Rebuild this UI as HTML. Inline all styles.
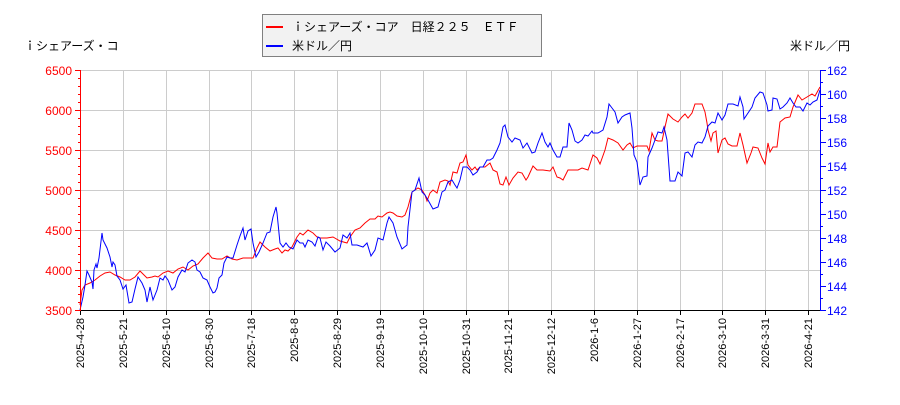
<!DOCTYPE html>
<html><head><meta charset="utf-8"><style>
body{margin:0;background:#fff;}
svg text{font-family:"Liberation Sans","Noto Sans CJK JP",sans-serif;}
</style></head><body>
<svg width="900" height="400" xmlns="http://www.w3.org/2000/svg">
<rect width="900" height="400" fill="#fff"/>
<g stroke="#cccccc" stroke-width="1">
<line x1="123.5" y1="70" x2="123.5" y2="310"/><line x1="166.5" y1="70" x2="166.5" y2="310"/><line x1="209.5" y1="70" x2="209.5" y2="310"/><line x1="251.5" y1="70" x2="251.5" y2="310"/><line x1="294.5" y1="70" x2="294.5" y2="310"/><line x1="337.5" y1="70" x2="337.5" y2="310"/><line x1="380.5" y1="70" x2="380.5" y2="310"/><line x1="423.5" y1="70" x2="423.5" y2="310"/><line x1="466.5" y1="70" x2="466.5" y2="310"/><line x1="508.5" y1="70" x2="508.5" y2="310"/><line x1="551.5" y1="70" x2="551.5" y2="310"/><line x1="594.5" y1="70" x2="594.5" y2="310"/><line x1="637.5" y1="70" x2="637.5" y2="310"/><line x1="680.5" y1="70" x2="680.5" y2="310"/><line x1="722.5" y1="70" x2="722.5" y2="310"/><line x1="765.5" y1="70" x2="765.5" y2="310"/><line x1="808.5" y1="70" x2="808.5" y2="310"/>
<line x1="81" y1="70.5" x2="820" y2="70.5"/><line x1="81" y1="110.5" x2="820" y2="110.5"/><line x1="81" y1="150.5" x2="820" y2="150.5"/><line x1="81" y1="190.5" x2="820" y2="190.5"/><line x1="81" y1="230.5" x2="820" y2="230.5"/><line x1="81" y1="270.5" x2="820" y2="270.5"/>
</g>
<polyline fill="none" stroke="#ff0000" stroke-width="1" points="80,305 82,290 85,285 90,283 95,280 100,276 105,273 110,272 115,275 120,277 125,280 130,280 135,277 140,271 143,274 147,278 152,277 155,276 158,277 163,273 168,271 173,273 178,269 183,267 188,270 193,266 198,264 203,258 208,253 212,258 217,259 222,259 227,256 232,259 237,260 243,258 248,258 253,258 257,248 260,242 265,247 270,251 275,249 278,248 282,253 285,250 288,251 292,247 297,237 300,233 303,235 308,230 313,233 317,237 320,238 327,238 333,237 340,241 347,243 350,237 355,230 360,228 365,223 370,219 375,219 378,216 382,217 387,213 390,212 393,213 397,216 402,217 405,215 408,207 412,192 415,190 418,188 422,190 425,195 427,201 430,193 433,190 437,193 440,182 445,180 448,181 450,185 453,172 457,173 460,163 463,162 466,155 468,165 472,170 475,167 477,170 480,167 485,167 490,163 493,170 497,172 500,184 503,185 506,177 509,185 513,178 518,172 522,173 526,180 528,177 533,166 537,170 543,170 550,171 553,167 557,177 560,178 563,180 568,170 578,170 582,168 588,170 593,155 597,158 600,164 605,150 608,138 613,140 618,143 623,150 627,145 630,143 633,148 637,146 647,146 649,151 652,133 655,140 658,141 662,141 665,127 668,114 673,119 678,122 682,117 685,114 688,118 692,113 695,104 702,104 705,112 707,123 708,130 711,141 713,133 716,131 718,153 722,140 725,138 728,144 732,146 737,146 740,133 743,145 747,163 751,153 753,147 758,148 762,158 765,164 768,143 770,152 773,147 777,147 780,122 785,118 790,117 793,107 798,95 802,100 807,97 812,94 815,96 820,87"/>
<polyline fill="none" stroke="#0000ff" stroke-width="1" points="80,310 83,297 85,285 87,271 89,275 92,282 93,289 94,270 96,264 97,268 99,258 102,233 103,240 107,248 110,257 112,267 113,262 115,265 117,276 120,280 123,289 126,285 129,303 132,302 135,289 138,277 142,283 145,290 147,302 150,287 153,300 157,290 160,278 163,280 165,276 168,280 172,290 175,287 178,277 182,270 185,272 188,263 192,260 195,262 197,270 200,272 203,278 207,280 210,287 213,293 215,292 217,288 219,278 222,275 224,263 227,257 230,258 233,258 237,245 240,236 243,228 245,240 248,231 251,229 253,243 256,257 259,252 263,243 267,233 270,232 273,217 276,207 277,213 280,243 283,247 286,243 289,247 293,249 297,240 300,243 303,243 305,247 308,240 312,242 315,246 318,237 320,238 323,250 326,242 330,246 335,252 340,248 343,235 347,238 350,233 352,245 357,245 363,247 367,243 371,256 375,250 378,238 383,240 387,223 389,217 393,223 397,237 402,249 407,245 408,227 412,192 415,190 419,178 422,192 425,195 428,200 433,209 438,207 442,192 445,190 448,182 452,180 455,185 457,188 460,180 463,167 467,167 470,170 473,175 477,172 480,167 483,167 487,160 490,160 493,158 497,150 500,143 503,127 505,125 508,137 512,142 515,138 520,140 523,148 527,143 532,153 535,152 538,143 542,133 545,142 548,147 550,143 553,150 557,157 560,157 563,147 567,147 569,123 572,130 575,141 578,143 582,140 585,135 588,136 592,131 593,133 598,133 603,130 607,117 609,104 612,108 615,112 618,123 622,117 625,115 630,113 632,128 634,155 637,162 640,185 643,177 647,176 648,157 652,148 655,140 658,132 662,133 664,127 667,140 670,181 675,181 678,172 682,176 685,153 688,152 692,157 695,145 698,142 702,143 705,137 708,126 712,122 715,123 718,113 722,120 725,115 728,104 733,104 738,106 740,97 743,107 744,119 748,113 752,107 755,98 760,92 763,93 767,105 768,111 772,110 773,98 777,99 780,109 783,107 787,103 790,98 793,103 796,107 800,107 803,111 807,103 810,105 813,102 817,100 820,90"/>
<line x1="80" y1="310.5" x2="820" y2="310.5" stroke="#000"/>
<g stroke="#000"><path d="M80.5 310v5M123.5 310v5M166.5 310v5M209.5 310v5M251.5 310v5M294.5 310v5M337.5 310v5M380.5 310v5M423.5 310v5M466.5 310v5M508.5 310v5M551.5 310v5M594.5 310v5M637.5 310v5M680.5 310v5M722.5 310v5M765.5 310v5M808.5 310v5"/></g>
<g stroke="#ff0000"><line x1="80.5" y1="70" x2="80.5" y2="310"/>
<path d="M75 70.5h6M75 110.5h6M75 150.5h6M75 190.5h6M75 230.5h6M75 270.5h6M75 310.5h6M78 78.5h3M78 86.5h3M78 94.5h3M78 102.5h3M78 118.5h3M78 126.5h3M78 134.5h3M78 142.5h3M78 158.5h3M78 166.5h3M78 174.5h3M78 182.5h3M78 198.5h3M78 206.5h3M78 214.5h3M78 222.5h3M78 238.5h3M78 246.5h3M78 254.5h3M78 262.5h3M78 278.5h3M78 286.5h3M78 294.5h3M78 302.5h3"/></g>
<g stroke="#0000ff"><line x1="820.5" y1="70" x2="820.5" y2="310"/>
<path d="M820 70.5h6M820 94.5h6M820 118.5h6M820 142.5h6M820 166.5h6M820 190.5h6M820 214.5h6M820 238.5h6M820 262.5h6M820 286.5h6M820 310.5h6M820 82.5h3M820 106.5h3M820 130.5h3M820 154.5h3M820 178.5h3M820 202.5h3M820 226.5h3M820 250.5h3M820 274.5h3M820 298.5h3"/></g>
<g fill="#ff0000" font-size="12" text-anchor="end">
<text x="72" y="75">6500</text><text x="72" y="115">6000</text><text x="72" y="155">5500</text><text x="72" y="195">5000</text><text x="72" y="235">4500</text><text x="72" y="275">4000</text><text x="72" y="315">3500</text></g>
<g fill="#0000ff" font-size="12">
<text x="827" y="75">162</text><text x="827" y="99">160</text><text x="827" y="123">158</text><text x="827" y="147">156</text><text x="827" y="171">154</text><text x="827" y="195">152</text><text x="827" y="219">150</text><text x="827" y="243">148</text><text x="827" y="267">146</text><text x="827" y="291">144</text><text x="827" y="315">142</text></g>
<g fill="#000" font-size="11" text-anchor="end">
<text transform="translate(84,318) rotate(-90)">2025-4-28</text><text transform="translate(127,318) rotate(-90)">2025-5-21</text><text transform="translate(170,318) rotate(-90)">2025-6-10</text><text transform="translate(213,318) rotate(-90)">2025-6-30</text><text transform="translate(255,318) rotate(-90)">2025-7-18</text><text transform="translate(298,318) rotate(-90)">2025-8-8</text><text transform="translate(341,318) rotate(-90)">2025-8-29</text><text transform="translate(384,318) rotate(-90)">2025-9-19</text><text transform="translate(427,318) rotate(-90)">2025-10-10</text><text transform="translate(470,318) rotate(-90)">2025-10-31</text><text transform="translate(512,318) rotate(-90)">2025-11-21</text><text transform="translate(555,318) rotate(-90)">2025-12-12</text><text transform="translate(598,318) rotate(-90)">2026-1-6</text><text transform="translate(641,318) rotate(-90)">2026-1-27</text><text transform="translate(684,318) rotate(-90)">2026-2-17</text><text transform="translate(726,318) rotate(-90)">2026-3-10</text><text transform="translate(769,318) rotate(-90)">2026-3-31</text><text transform="translate(812,318) rotate(-90)">2026-4-21</text></g>
<text x="24" y="50" font-size="12" fill="#000">ｉシェアーズ・コ</text>
<text x="850" y="50" font-size="12" fill="#000" text-anchor="end">米ドル／円</text>
<rect x="262.5" y="14.5" width="279" height="42" fill="#f2f2f2" stroke="#808080"/>
<line x1="266" y1="27" x2="283" y2="27" stroke="#ff0000" stroke-width="2"/>
<line x1="266" y1="46" x2="283" y2="46" stroke="#0000ff" stroke-width="2"/>
<text x="292" y="31" font-size="12" fill="#000">ｉシェアーズ・コア　日経２２５　ＥＴＦ</text>
<text x="292" y="50" font-size="12" fill="#000">米ドル／円</text>
</svg>
</body></html>
